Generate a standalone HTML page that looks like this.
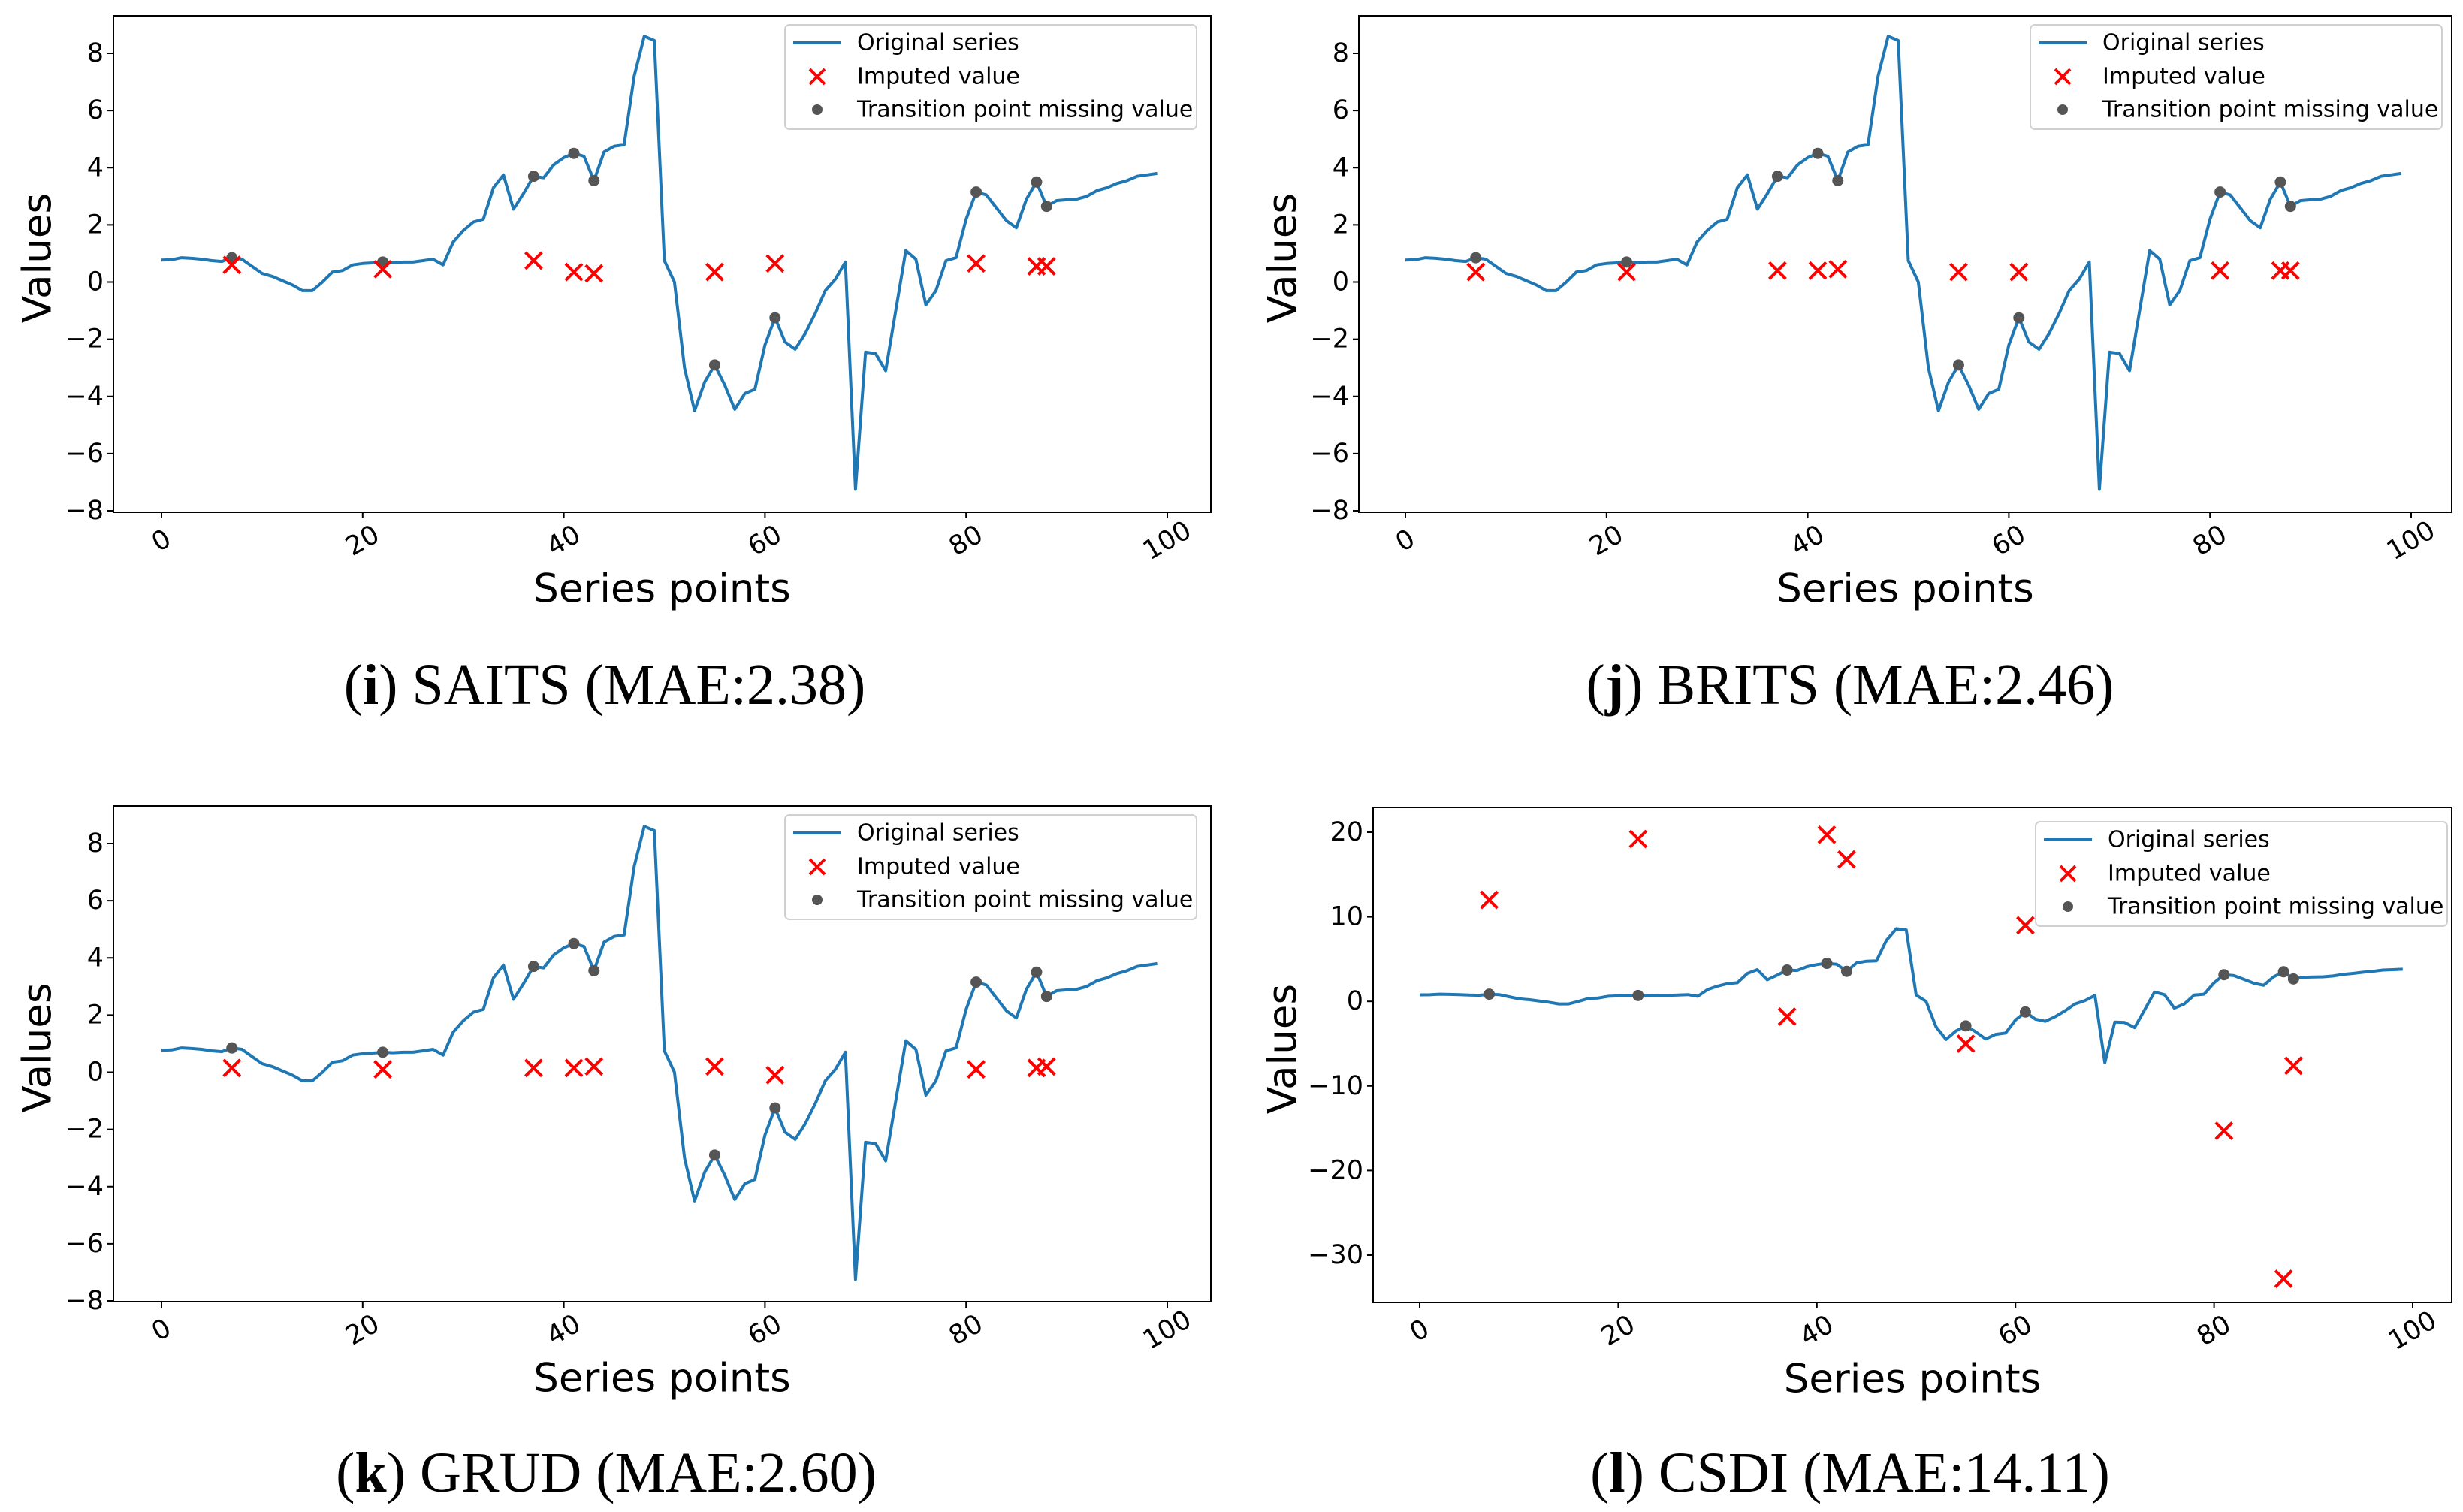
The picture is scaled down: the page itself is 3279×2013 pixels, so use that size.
<!DOCTYPE html>
<html><head><meta charset="utf-8">
<style>
html,body{margin:0;padding:0;background:#fff;}
svg{display:block;}
</style></head>
<body>
<svg id="fig" width="3279" height="2013" viewBox="0 0 3279 2013" xmlns="http://www.w3.org/2000/svg"></svg>
<script>
const xIndex = Array.from({length:100},(_,i)=>i);
const seriesValues = [0.77,0.78,0.85,0.83,0.8,0.75,0.72,0.85,0.8,0.55,
0.3,0.2,0.05,-0.1,-0.3,-0.3,0,0.35,0.4,0.6,
0.65,0.67,0.7,0.68,0.7,0.7,0.75,0.8,0.6,1.4,
1.8,2.1,2.2,3.3,3.75,2.55,3.1,3.7,3.65,4.1,
4.35,4.5,4.4,3.55,4.55,4.75,4.8,7.2,8.6,8.45,
0.75,0,-3,-4.5,-3.5,-2.9,-3.6,-4.45,-3.9,-3.75,
-2.2,-1.25,-2.1,-2.35,-1.8,-1.1,-0.3,0.1,0.7,-7.25,
-2.45,-2.5,-3.1,-1,1.1,0.8,-0.8,-0.3,0.75,0.85,
2.2,3.15,3.05,2.6,2.15,1.9,2.9,3.5,2.65,2.85,
2.88,2.9,3.0,3.2,3.3,3.45,3.55,3.7,3.75,3.8];
const missingIdx = [7,22,37,41,43,55,61,81,87,88];
const saitsImputed = [0.6,0.45,0.75,0.35,0.3,0.35,0.65,0.65,0.55,0.55];
const britsImputed = [0.35,0.35,0.4,0.4,0.45,0.35,0.35,0.4,0.4,0.4];
const grudImputed = [0.15,0.1,0.15,0.15,0.2,0.2,-0.1,0.1,0.15,0.2];
const csdiImputed = [12,19.2,-1.8,19.7,16.8,-5,9,-15.3,-32.8,-7.6];
const xTicks = [0,20,40,60,80,100];
const yTicksSmall = [-8,-6,-4,-2,0,2,4,6,8];
const yTicksCsdi = [-30,-20,-10,0,10,20];
const captionTags = ['i','j','k','l'];
const captionNames = [' SAITS (MAE:2.38)',' BRITS (MAE:2.46)',' GRUD (MAE:2.60)',' CSDI (MAE:14.11)'];

const NS='http://www.w3.org/2000/svg';
const svg=document.getElementById('fig');
function mk(tag,attrs,parent){const e=document.createElementNS(NS,tag);for(const k in attrs)e.setAttribute(k,attrs[k]);(parent||svg).appendChild(e);return e;}
function fmt(v){return v<0?'\u2212'+Math.abs(v):String(v);}

const panels=[
 {key:'saits',imp:saitsImputed,L:151,R:1612,T:21,B:682,x0:215,x100:1554,ya:8,yaPx:71,yb:-8,ybPx:680,yt:yTicksSmall,leg:[1045,33],valX:50,cap:[805,912]},
 {key:'brits',imp:britsImputed,L:1809,R:3264,T:21,B:682,x0:1871,x100:3210,ya:8,yaPx:71,yb:-8,ybPx:680,yt:yTicksSmall,leg:[2703,33],valX:1708,cap:[2463,912]},
 {key:'grud',imp:grudImputed,L:151,R:1612,T:1073,B:1733,x0:215,x100:1554,ya:8,yaPx:1123,yb:-8,ybPx:1732,yt:yTicksSmall,leg:[1045,1085],valX:50,cap:[807,1961]},
 {key:'csdi',imp:csdiImputed,L:1828,R:3264,T:1075,B:1734,x0:1890,x100:3212,ya:20,yaPx:1108,yb:-30,ybPx:1671,yt:yTicksCsdi,leg:[2710,1094],valX:1708,cap:[2463,1961]}
];

panels.forEach((p,pi)=>{
 const g=mk('g',{});
 
 
 const X=v=>p.x0+(v/100)*(p.x100-p.x0);
 const Y=v=>p.yaPx+(v-p.ya)*(p.ybPx-p.yaPx)/(p.yb-p.ya);
 const box=mk('rect',{x:p.L,y:p.T,width:p.R-p.L,height:p.B-p.T,fill:'none',stroke:'#000','stroke-width':2},g);
 
 
 xTicks.forEach(t=>{
  const x=X(t);
  mk('line',{x1:x,y1:p.B,x2:x,y2:p.B+8,stroke:'#000','stroke-width':2},g);
  const tx=mk('text',{x:x,y:p.B+38,'font-family':'DejaVu Sans, Liberation Sans, sans-serif','font-size':35,'text-anchor':'middle','dominant-baseline':'central',transform:`rotate(-30 ${x} ${p.B+38})`},g);
  tx.textContent=String(t);
  
  
 });
 p.yt.forEach(t=>{
  const y=Y(t);
  mk('line',{x1:p.L-8,y1:y,x2:p.L,y2:y,stroke:'#000','stroke-width':2},g);
  const ty=mk('text',{x:p.L-13,y:y,'font-family':'DejaVu Sans, Liberation Sans, sans-serif','font-size':35,'text-anchor':'end','dominant-baseline':'central'},g);
  ty.textContent=fmt(t);
  
  
 });
 const d=xIndex.map((i,k)=>(k?'L':'M')+X(i).toFixed(1)+' '+Y(seriesValues[k]).toFixed(1)).join(' ');
 const line=mk('path',{d:d,fill:'none',stroke:'#1f77b4','stroke-width':4,'stroke-linejoin':'round'},g);
 
 
 missingIdx.forEach(i=>{
  const c=mk('circle',{cx:X(i),cy:Y(seriesValues[i]),r:7.5,fill:'#555'},g);
  
  
 });
 missingIdx.forEach((i,k)=>{
  const cx=X(i),cy=Y(p.imp[k]),s=11;
  const m=mk('path',{d:`M${cx-s} ${cy-s}L${cx+s} ${cy+s}M${cx-s} ${cy+s}L${cx+s} ${cy-s}`,stroke:'#ff0000','stroke-width':4,fill:'none'},g);
  
  
 });
 const [lx,ly]=p.leg;
 const lg=mk('g',{},g);
 
 
 mk('rect',{x:lx,y:ly,width:548,height:139,rx:6,fill:'#fff','fill-opacity':0.8,stroke:'#d0d0d0','stroke-width':2},lg);
 const rows=[['Original series',ly+24],['Imputed value',ly+69],['Transition point missing value',ly+113]];
 mk('line',{x1:lx+11,y1:rows[0][1],x2:lx+75,y2:rows[0][1],stroke:'#1f77b4','stroke-width':4},lg);
 const cx=lx+43,cy=rows[1][1],s=10;
 mk('path',{d:`M${cx-s} ${cy-s}L${cx+s} ${cy+s}M${cx-s} ${cy+s}L${cx+s} ${cy-s}`,stroke:'#ff0000','stroke-width':3.8},lg);
 mk('circle',{cx:lx+43,cy:rows[2][1],r:7,fill:'#555'},lg);
 rows.forEach(r=>{
  const t=mk('text',{x:lx+96,y:r[1],'font-family':'DejaVu Sans, Liberation Sans, sans-serif','font-size':30,'dominant-baseline':'central'},lg);
  t.textContent=r[0];
  
  
 });
 const xl=mk('text',{x:(p.L+p.R)/2,y:p.B+102,'font-family':'DejaVu Sans, Liberation Sans, sans-serif','font-size':53,'text-anchor':'middle','dominant-baseline':'central'},g);
 xl.textContent='Series points';
 
 
 const ymid=(p.T+p.B)/2-8;
 const yl=mk('text',{x:p.valX,y:ymid,'font-family':'DejaVu Sans, Liberation Sans, sans-serif','font-size':53,'text-anchor':'middle','dominant-baseline':'central',transform:`rotate(-90 ${p.valX} ${ymid})`},g);
 yl.textContent='Values';
 
 
 const cap=mk('text',{x:p.cap[0],y:p.cap[1],'font-family':'Liberation Serif, serif','font-size':76,'text-anchor':'middle','dominant-baseline':'central'},g);
 
 
 const s1=mk('tspan',{},cap);s1.textContent='(';
 const s2=mk('tspan',{'font-weight':'bold'},cap);s2.textContent=captionTags[pi];
 const s3=mk('tspan',{},cap);s3.textContent=')'+captionNames[pi];
});
</script>
</body></html>
